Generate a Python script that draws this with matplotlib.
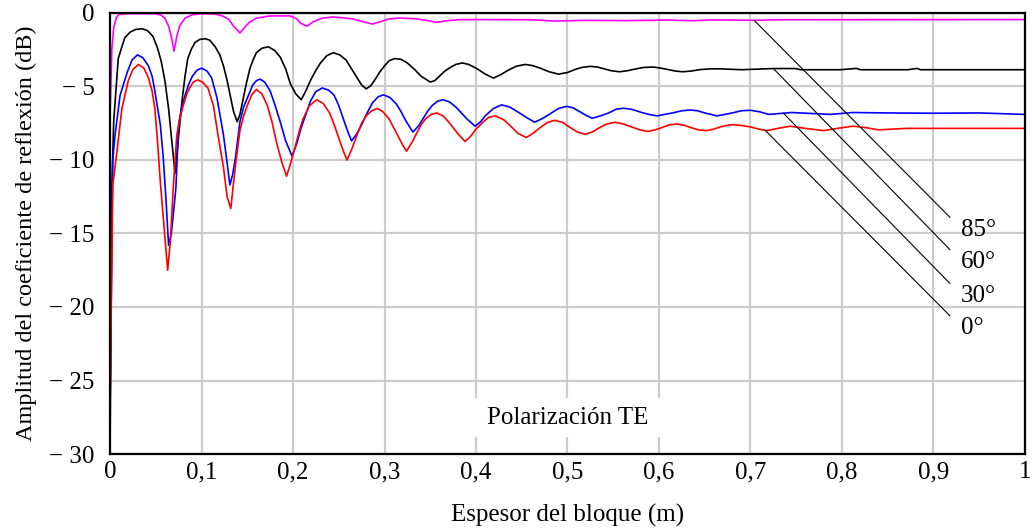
import numpy as np
import matplotlib
matplotlib.use("Agg")
import matplotlib.pyplot as plt
from matplotlib.patches import Rectangle

# reflection amplitude (dB) vs block thickness (m), TE polarisation
x_85 = [0, 0.002, 0.004, 0.007, 0.01, 0.02, 0.05, 0.056, 0.06, 0.064, 0.067, 0.07,
        0.073, 0.076, 0.082, 0.09, 0.1, 0.115, 0.123, 0.13, 0.135, 0.142, 0.147,
        0.152, 0.16, 0.175, 0.197, 0.204, 0.208, 0.215, 0.222, 0.232, 0.244, 0.265,
        0.28, 0.287, 0.295, 0.305, 0.317, 0.335, 0.35, 0.357, 0.365, 0.38, 0.40,
        0.46, 0.486, 0.52, 0.563, 0.61, 0.636, 0.658, 0.705, 0.73, 1.0]
y_85 = [-7.0, -2.5, -1.0, -0.3, -0.1, -0.05, -0.05, -0.15, -0.35, -0.9, -1.6, -2.6,
        -1.6, -0.9, -0.35, -0.12, -0.05, -0.07, -0.2, -0.45, -0.9, -1.36, -1.0,
        -0.65, -0.35, -0.2, -0.2, -0.4, -0.68, -0.9, -0.6, -0.35, -0.27, -0.4,
        -0.65, -0.75, -0.6, -0.4, -0.34, -0.4, -0.55, -0.64, -0.55, -0.46, -0.45,
        -0.46, -0.55, -0.5, -0.52, -0.48, -0.53, -0.47, -0.5, -0.46, -0.45]

x_60 = [0, 0.002, 0.004, 0.009, 0.016, 0.022, 0.028, 0.035, 0.041, 0.047, 0.052, 0.056,
        0.06, 0.064, 0.068, 0.071, 0.074, 0.079, 0.082, 0.085, 0.089, 0.093, 0.098,
        0.104, 0.109, 0.115, 0.12, 0.124, 0.128, 0.132, 0.135, 0.139, 0.142, 0.145,
        0.149, 0.153, 0.157, 0.16, 0.166, 0.173, 0.18, 0.186, 0.192, 0.197, 0.203,
        0.209, 0.214, 0.219, 0.225, 0.23, 0.237, 0.244, 0.251, 0.258, 0.264, 0.27,
        0.275, 0.28, 0.285, 0.29, 0.295, 0.30, 0.305, 0.311, 0.318, 0.325, 0.333,
        0.34, 0.35, 0.355, 0.36, 0.366, 0.372, 0.378, 0.385, 0.392, 0.40, 0.41,
        0.419, 0.427, 0.435, 0.444, 0.454, 0.462, 0.47, 0.48, 0.49, 0.5, 0.508,
        0.516, 0.525, 0.533, 0.54, 0.548, 0.557, 0.566, 0.575, 0.584, 0.594, 0.602,
        0.61, 0.618, 0.626, 0.635, 0.645, 0.656, 0.667, 0.69, 0.725, 0.749, 0.755,
        0.798, 0.816, 0.82, 0.872, 0.882, 0.886, 1.0]
y_60 = [-30.0, -12.0, -7.4, -3.1, -1.7, -1.3, -1.12, -1.07, -1.2, -1.6, -2.4, -3.3,
        -4.6, -6.5, -9.0, -10.9, -9.0, -5.8, -4.3, -3.1, -2.45, -2.0, -1.8,
        -1.75, -1.85, -2.3, -2.85, -3.6, -4.6, -5.8, -6.7, -7.4, -6.9, -6.0,
        -4.8, -3.75, -3.1, -2.7, -2.4, -2.3, -2.55, -3.0, -3.8, -4.8, -5.5,
        -5.9, -5.3, -4.6, -3.9, -3.4, -2.9, -2.7, -2.85, -3.2, -3.8, -4.4,
        -4.9, -5.16, -4.95, -4.5, -4.0, -3.6, -3.25, -3.1, -3.15, -3.4, -3.85,
        -4.3, -4.7, -4.6, -4.3, -3.95, -3.7, -3.5, -3.4, -3.5, -3.75, -4.15,
        -4.43, -4.2, -3.9, -3.62, -3.5, -3.58, -3.75, -4.0, -4.16, -4.05, -3.85,
        -3.7, -3.63, -3.68, -3.8, -3.93, -4.0, -3.92, -3.8, -3.7, -3.68, -3.75,
        -3.85, -3.95, -4.0, -3.95, -3.85, -3.8, -3.8, -3.86, -3.78, -3.78, -3.86,
        -3.86, -3.77, -3.86, -3.86, -3.77, -3.86, -3.86]

x_30 = [0, 0.003, 0.0055, 0.011, 0.019, 0.024, 0.03, 0.036, 0.042, 0.046, 0.049, 0.055,
        0.058, 0.061, 0.064, 0.067, 0.069, 0.072, 0.075, 0.078, 0.082, 0.086, 0.09,
        0.095, 0.1, 0.106, 0.111, 0.117, 0.124, 0.128, 0.131, 0.134, 0.137, 0.142,
        0.146, 0.15, 0.156, 0.16, 0.164, 0.169, 0.175, 0.18, 0.186, 0.192, 0.199,
        0.204, 0.208, 0.214, 0.219, 0.225, 0.232, 0.239, 0.245, 0.25, 0.255, 0.26,
        0.264, 0.27, 0.275, 0.281, 0.287, 0.293, 0.299, 0.306, 0.313, 0.318, 0.323,
        0.331, 0.337, 0.342, 0.347, 0.352, 0.358, 0.364, 0.371, 0.378, 0.384, 0.39,
        0.399, 0.405, 0.41, 0.419, 0.428, 0.437, 0.445, 0.455, 0.464, 0.472, 0.48,
        0.49, 0.499, 0.506, 0.513, 0.52, 0.527, 0.536, 0.545, 0.553, 0.561, 0.57,
        0.58, 0.589, 0.598, 0.606, 0.615, 0.625, 0.634, 0.642, 0.65, 0.657, 0.663,
        0.672, 0.68, 0.69, 0.70, 0.71, 0.72, 0.745, 0.787, 0.812, 0.85, 0.9, 0.95, 1.0]
y_30 = [-27.0, -10.0, -8.3, -5.6, -4.0, -3.2, -2.85, -3.05, -3.6, -4.3, -5.3, -7.6,
        -9.7, -12.5, -15.8, -15.0, -13.8, -11.9, -7.6, -6.5, -5.6, -4.85, -4.3,
        -3.9, -3.75, -3.95, -4.4, -5.8, -8.3, -10.2, -11.7, -11.0, -9.9, -7.4,
        -6.4, -5.8, -4.9, -4.6, -4.5, -4.7, -5.3, -6.2, -7.4, -8.7, -9.75,
        -8.9, -8.0, -6.9, -6.0, -5.35, -5.1, -5.25, -5.6, -6.3, -7.2, -8.1,
        -8.7, -8.2, -7.6, -6.8, -6.1, -5.7, -5.57, -5.75, -6.2, -6.7, -7.3,
        -8.1, -7.7, -7.2, -6.7, -6.3, -6.0, -5.9, -6.05, -6.4, -6.8, -7.2,
        -7.7, -7.4, -7.0, -6.5, -6.25, -6.4, -6.7, -7.1, -7.43, -7.2, -6.9,
        -6.5, -6.35, -6.45, -6.7, -6.95, -7.16, -7.0, -6.8, -6.55, -6.48, -6.55,
        -6.75, -6.9, -7.0, -6.9, -6.8, -6.65, -6.6, -6.65, -6.8, -6.9, -7.0,
        -6.9, -6.8, -6.65, -6.62, -6.72, -6.9, -6.77, -6.9, -6.77, -6.8, -6.82, -6.8, -6.9]

x_0 = [0, 0.003, 0.008, 0.013, 0.02, 0.025, 0.031, 0.037, 0.042, 0.046, 0.049, 0.052,
       0.055, 0.059, 0.063, 0.066, 0.069, 0.073, 0.077, 0.08, 0.084, 0.087, 0.091,
       0.096, 0.101, 0.107, 0.113, 0.118, 0.124, 0.128, 0.132, 0.137, 0.142, 0.146,
       0.15, 0.155, 0.16, 0.166, 0.172, 0.177, 0.182, 0.188, 0.193, 0.197, 0.202,
       0.207, 0.211, 0.218, 0.226, 0.233, 0.24, 0.245, 0.25, 0.255, 0.259, 0.264,
       0.27, 0.275, 0.28, 0.286, 0.292, 0.298, 0.305, 0.31, 0.315, 0.32, 0.324,
       0.33, 0.335, 0.34, 0.345, 0.351, 0.357, 0.364, 0.37, 0.375, 0.38, 0.388,
       0.394, 0.40, 0.408, 0.414, 0.421, 0.43, 0.438, 0.446, 0.455, 0.462, 0.47,
       0.478, 0.486, 0.495, 0.503, 0.511, 0.519, 0.527, 0.535, 0.543, 0.552, 0.561,
       0.57, 0.579, 0.588, 0.596, 0.605, 0.612, 0.62, 0.628, 0.635, 0.643, 0.652,
       0.66, 0.667, 0.674, 0.681, 0.69, 0.70, 0.709, 0.718, 0.73, 0.743, 0.76,
       0.78, 0.795, 0.812, 0.826, 0.84, 0.87, 1.0]
y_0 = [-27.0, -11.7, -9.2, -6.5, -4.6, -3.85, -3.5, -3.75, -4.4, -5.3, -6.5, -8.8,
       -11.5, -14.5, -17.5, -15.5, -12.0, -8.3, -7.0, -6.3, -5.5, -5.1, -4.7,
       -4.55, -4.7, -5.1, -6.3, -8.3, -10.5, -12.5, -13.3, -10.4, -8.0, -7.0,
       -6.3, -5.55, -5.2, -5.5, -6.3, -7.4, -8.8, -10.2, -11.1, -10.3, -9.2,
       -8.0, -7.2, -6.3, -5.9, -6.15, -6.8, -7.6, -8.5, -9.4, -10.0, -9.3,
       -8.3, -7.5, -7.0, -6.65, -6.5, -6.7, -7.2, -7.8, -8.4, -9.0, -9.4,
       -8.8, -8.2, -7.6, -7.2, -6.9, -6.8, -7.0, -7.4, -7.8, -8.2, -8.74,
       -8.4, -7.9, -7.4, -7.1, -7.0, -7.25, -7.7, -8.2, -8.47, -8.2, -7.8,
       -7.45, -7.3, -7.45, -7.8, -8.1, -8.25, -8.1, -7.8, -7.55, -7.43, -7.55,
       -7.75, -7.95, -8.06, -7.95, -7.75, -7.6, -7.55, -7.65, -7.8, -7.95, -8.0,
       -7.9, -7.75, -7.65, -7.6, -7.65, -7.75, -7.9, -8.0, -7.85, -7.7, -7.85,
       -8.0, -7.85, -7.7, -7.8, -7.95, -7.85, -7.85]

series = [(x_85, y_85, "#ff00ff", "85°"), (x_60, y_60, "black", "60°"),
          (x_30, y_30, "#0000ff", "30°"), (x_0, y_0, "#ff0000", "0°")]

xticks = [0, 0.1, 0.2, 0.3, 0.4, 0.5, 0.6, 0.7, 0.8, 0.9, 1.0]
xticklabels = ["0", "0,1", "0,2", "0,3", "0,4", "0,5", "0,6", "0,7", "0,8", "0,9", "1"]
yticks = [0, -5, -10, -15, -20, -25, -30]
yticklabels = ["0", "− 5", "− 10", "− 15", "− 20", "− 25", "− 30"]

# where each leader line leaves its curve, and where its label sits
label_start_x = [0.704, 0.725, 0.736, 0.716]
label_y = [-14.4, -16.6, -18.9, -21.1]

plt.rcParams['font.family'] = ['Liberation Serif', 'DejaVu Serif']

fig = plt.figure(figsize=(10.32, 5.32), dpi=100)
ax = fig.add_axes([0.1066, 0.1466, 0.8866, 0.829])

ax.set_axisbelow(True)
ax.grid(True, color="#cccccc", lw=1.6)
for xs, ys, c, lab in series:
    ax.plot(xs, ys, color=c, lw=1.2, zorder=3)

for (xs, ys, c, lab), sx, ly in zip(series, label_start_x, label_y):
    sy = np.interp(sx, xs, ys)
    ax.plot([sx, 0.918], [sy, ly + 0.5], color="black", lw=0.8, zorder=4)
    ax.text(0.93, ly - 0.35, lab, fontsize=18, va="center", ha="left", zorder=5)

# white patch behind the caption hides the grid there
ax.add_patch(Rectangle((0.385, -28.85), 0.23, 2.65, facecolor="white",
                       edgecolor="none", zorder=2))
ax.text(0.5, -27.55, "Polarización TE", fontsize=18, ha="center", va="center", zorder=5)

ax.set_xlim(0, 1)
ax.set_ylim(-30, 0)
ax.set_xticks(xticks)
ax.set_xticklabels(xticklabels)
ax.set_yticks(yticks)
ax.set_yticklabels(yticklabels)
ax.tick_params(length=0, labelsize=18)
ax.tick_params(axis="y", pad=11)
ax.tick_params(axis="x", pad=5)
for s in ax.spines.values():
    s.set_linewidth(1.6)
    s.set_zorder(6)

ax.set_xlabel("Espesor del bloque (m)", fontsize=18, labelpad=15)
ax.set_ylabel("Amplitud del coeficiente de reflexión (dB)", fontsize=17.5, labelpad=9)

fig.savefig("out.png", dpi=100)
